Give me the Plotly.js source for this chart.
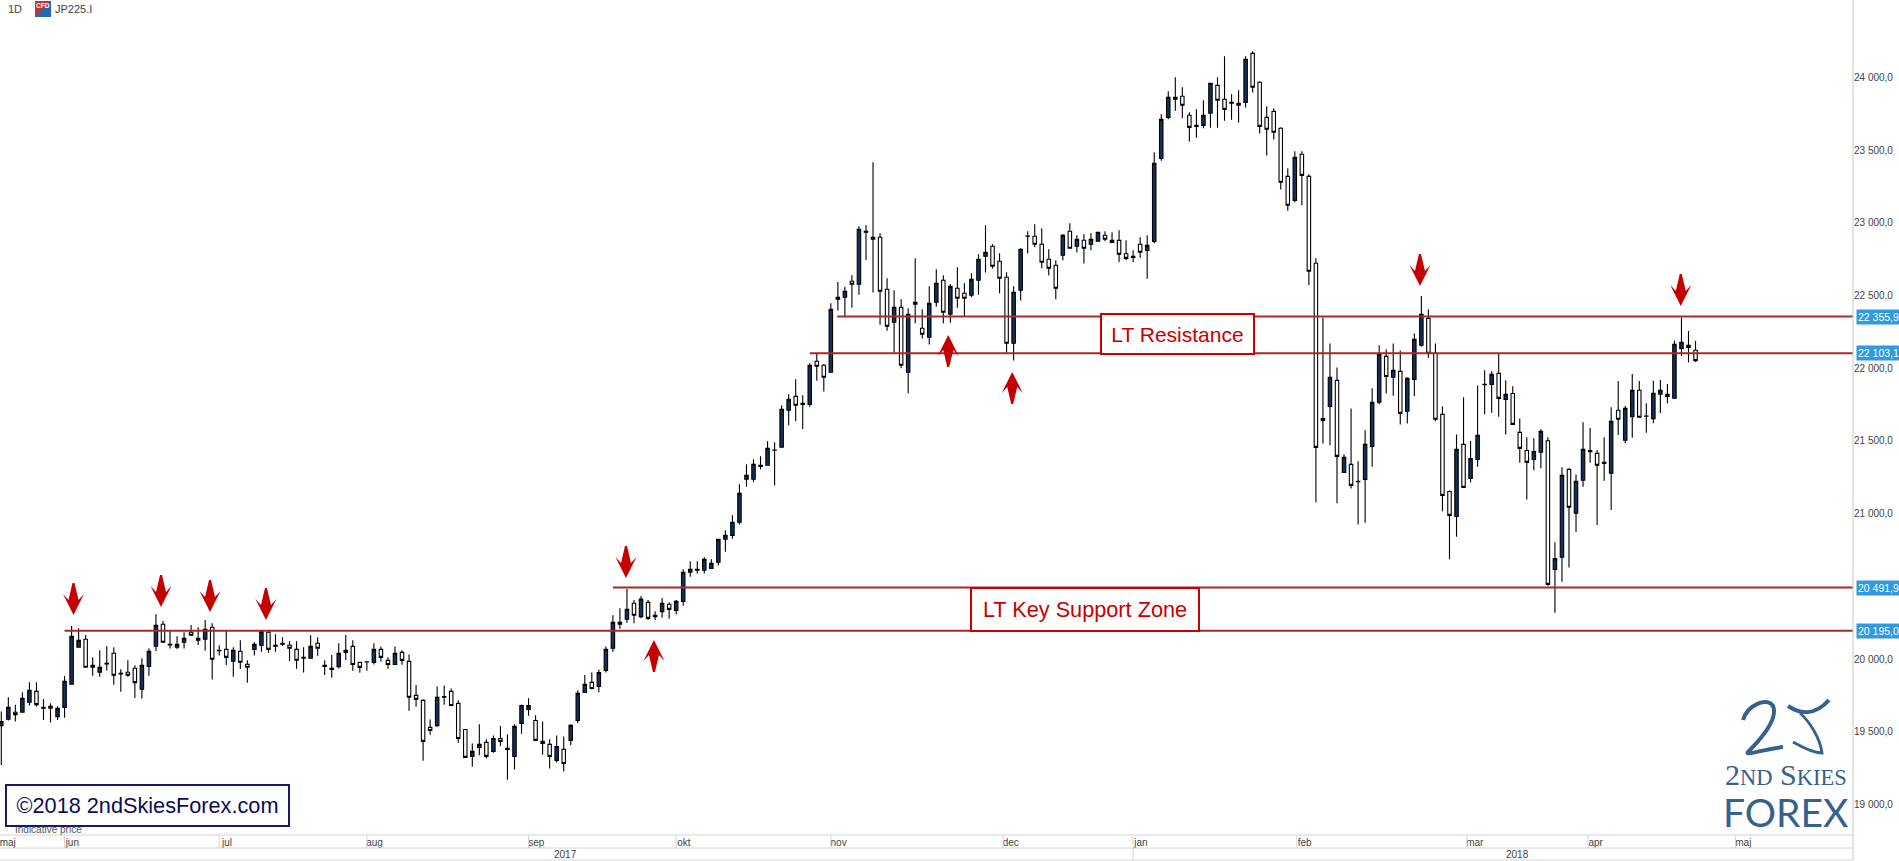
<!DOCTYPE html>
<html>
<head>
<meta charset="utf-8">
<script src="https://cdn.plot.ly/plotly-3.0.1.min.js"></script>
<style>html,body{margin:0;padding:0;background:#fff}#chart{width:1899px;height:861px}</style>
</head>
<body>
<div id="chart"></div>
<script>
const openPrices = [
19542,19586,19634,19634,19703,19778,19662,19675,19604,19668,19827,20081,20136,19957,19909,19967,20040,19898,19909,19937,
19792,19950,20088,20239,20097,20081,20116,20184,20129,20136,20219,20061,20067,19985,20054,19964,20067,20095,20184,20088,
20102,20095,20067,20006,20006,20109,19950,19929,19947,20046,20087,19977,19982,19977,20067,19991,19963,20046,19984,19750,
19716,19530,19542,19737,19778,19695,19516,19331,19393,19427,19365,19454,19379,19331,19558,19654,19578,19434,19413,19303,
19379,19441,19578,19771,19840,19812,19922,20074,20239,20274,20384,20292,20390,20292,20326,20377,20335,20397,20597,20611,
20611,20624,20666,20824,20851,20941,21237,21237,21324,21333,21438,21457,21711,21807,21752,21752,22048,22021,21973,22475,
22489,22599,22578,22936,22901,22901,22544,22317,22420,21973,22454,22275,22213,22454,22605,22372,22550,22516,22502,22605,
22771,22839,22736,22626,22172,22537,22908,22908,22853,22750,22709,22777,22943,22839,22881,22853,22874,22915,22866,22880,
22788,22763,22853,22811,22873,23444,23726,23864,23871,23740,23664,23671,23754,23946,23850,23823,23823,23829,24166,23967,
23726,23767,23651,23320,23155,23472,23320,22722,21642,21738,21917,21284,21339,21222,21236,21463,21766,22082,21938,21979,
21704,21924,22158,22343,22103,21683,21153,20981,21477,21243,21373,21889,21889,21965,21786,21827,21559,21435,21373,21422,
21502,20617,20700,21305,21003,21230,21427,21415,21346,21278,21711,21505,21667,21849,21672,21654,21821,21807,21794,22135,
22158,22124];
const highPrices = [
19639,19737,19685,19772,19840,19840,19726,19696,19675,19884,20228,20212,20166,20012,20061,20088,20081,19930,19992,19957,
20006,20074,20308,20262,20191,20157,20184,20235,20219,20269,20246,20095,20198,20081,20129,19992,20116,20189,20200,20171,
20150,20122,20122,20081,20164,20150,19992,20028,20108,20165,20129,19977,19984,20108,20087,20012,20087,20060,20032,19821,
19723,19585,19812,19819,19798,19716,19516,19420,19551,19448,19475,19539,19482,19551,19688,19730,19613,19571,19448,19475,
19468,19551,19785,19890,19908,19929,20087,20301,20349,20482,20406,20434,20406,20329,20420,20390,20406,20617,20672,20672,
20700,20686,20824,20886,20989,21202,21340,21374,21395,21498,21491,21746,21821,21924,21814,22034,22099,22030,22447,22594,
22560,22640,22977,22984,23417,22929,22619,22537,22475,22413,22757,22406,22564,22681,22640,22578,22695,22585,22654,22784,
22984,22853,22791,22660,22564,22826,22943,22991,22963,22819,22743,22924,22998,22915,22922,22929,22936,22943,22935,22949,
22880,22811,22901,22915,23485,23747,23905,24001,23933,23761,23781,23843,23960,24001,24146,23884,23912,24146,24180,23974,
23802,23788,23657,23375,23492,23492,23334,22756,22350,22171,22006,21408,21724,21360,21573,21862,22158,22130,22171,22123,
21938,22240,22497,22405,22171,21738,21160,21545,21800,21500,21882,21986,21979,22103,21917,21876,21655,21525,21518,21580,
21525,20803,21319,21312,21269,21629,21590,21438,21525,21732,21913,21741,21961,21913,21759,21915,21920,21892,22190,22349,
22257,22188];
const lowPrices = [
19272,19577,19570,19634,19680,19673,19581,19563,19581,19597,19827,20081,19944,19886,19879,19921,19824,19776,19879,19733,
19728,19886,20056,20116,20072,20070,20072,20164,20097,20058,19859,20024,19960,19879,19932,19838,20024,20051,20044,20051,
20090,19987,19934,19907,20006,20022,19891,19872,19936,19993,19920,19906,19920,19963,19984,19934,19963,19961,19645,19672,
19301,19480,19535,19686,19675,19425,19324,19260,19338,19317,19356,19402,19170,19241,19487,19611,19441,19342,19248,19289,
19227,19408,19558,19771,19791,19771,19908,20051,20209,20250,20246,20280,20269,20269,20285,20278,20306,20367,20567,20588,
20588,20624,20643,20739,20828,20925,21186,21218,21303,21333,21193,21457,21608,21636,21580,21736,21915,21840,21973,22397,
22351,22417,22505,22745,22521,22300,22259,22108,22000,21828,22310,22204,22163,22424,22310,22314,22417,22355,22489,22505,
22658,22686,22516,22108,22053,22466,22789,22832,22688,22638,22475,22741,22826,22796,22720,22812,22874,22874,22860,22729,
22743,22729,22761,22616,22860,23428,23712,23772,23719,23559,23586,23651,23655,23655,23703,23710,23690,23793,23896,23614,
23463,23573,23229,23084,23142,23121,22573,21078,21483,21470,21071,21284,21174,20926,20938,21323,21752,21827,21811,21614,
21621,21807,22148,22073,21635,21016,20687,20842,21181,21215,21323,21683,21695,21667,21545,21614,21350,21098,21298,21312,
20505,20319,20532,20629,20874,21186,21351,20922,21227,21026,21541,21484,21523,21663,21557,21622,21693,21759,21794,22085,
22039,22044];
const closePrices = [
19570,19668,19618,19730,19785,19687,19668,19662,19662,19847,20157,20129,19944,19944,19944,19971,19889,19902,19889,19838,
19957,20054,20233,20116,20102,20102,20143,20164,20143,20205,19999,20058,20012,20061,19978,19944,20102,20189,20067,20095,
20109,20074,19992,20012,20088,20074,19957,19936,20039,20060,19963,19943,19980,20067,20012,19963,20039,19991,19737,19723,
19434,19509,19737,19743,19681,19454,19324,19365,19413,19331,19454,19434,19386,19537,19681,19681,19441,19420,19331,19399,
19282,19544,19764,19826,19798,19908,20067,20253,20253,20343,20301,20413,20280,20301,20384,20342,20397,20597,20617,20617,
20686,20659,20824,20851,20941,21140,21264,21340,21333,21450,21436,21718,21787,21746,21759,22021,22014,21938,22406,22489,
22530,22578,22956,22943,22887,22530,22289,22420,22021,22372,22440,22234,22447,22585,22385,22564,22482,22482,22612,22750,
22798,22702,22619,22172,22523,22819,22910,22853,22729,22688,22550,22915,22826,22887,22826,22887,22936,22887,22880,22784,
22756,22770,22798,22846,23410,23712,23864,23850,23809,23657,23671,23740,23960,23843,23781,23829,23809,24125,23933,23664,
23644,23623,23279,23121,23451,23327,22667,21456,21655,21938,21394,21387,21195,21220,21477,21766,22096,21944,21986,21690,
21931,22199,22371,22103,21649,21126,20988,21442,21181,21380,21539,21887,21958,21793,21821,21614,21449,21353,21428,21566,
20514,20691,21264,21044,21223,21443,21434,21333,21353,21635,21649,21725,21849,21663,21670,21828,21849,21821,22165,22179,
22144,22053];
const sessions = openPrices.map((_, i) => i);

const priceTicks = [19000,19500,20000,21000,21500,22000,22500,23000,23500,24000];
const priceTickLabels = ['19 000,0','19 500,0','20 000,0','21 000,0','21 500,0','22 000,0','22 500,0','23 000,0','23 500,0','24 000,0'];
const monthStarts = [-0.18,9,31,52,75,96,118,142.5,161,184.3,208.5,225.7,246.7];
const monthLabels = ['maj','jun','jul','aug','sep','okt','nov','dec','jan','feb','mar','apr','maj'];
const levelPrices = [22355.9,22103.1,20491.9,20195.0];
const levelStarts = [118.9,115,87,9];
const levelLabels = ['22 355,9','22 103,1','20 491,9','20 195,0'];
const downArrowX = [10.27,22.72,29.69,37.65,88.86,201.8,238.9];
const downArrowY = [20303,20358,20324,20269,20558,22566,22429];
const upArrowX = [92.84,134.7,143.8];
const upArrowY = [20131,22229,21975];

const NAVY = '#12305a', RED = '#c40000', LINE = '#a92a2a', AXIS = '#d4d4d4', TXT = '#444', LOGO = '#35608f';
const stripH = 26, plotH = 835;

const pxShape = (path, extra) => Object.assign({type:'path', xref:'paper', yref:'paper', xsizemode:'pixel', ysizemode:'pixel', xanchor:0, yanchor:1, path, layer:'above'}, extra);

const shapes = [];
levelPrices.forEach((p,i) => shapes.push({type:'line', xref:'x', yref:'y', x0:levelStarts[i], x1:263.4, y0:p, y1:p, layer:'above', line:{color:LINE,width:2}}));
downArrowX.forEach((x,i) => shapes.push({type:'path', xref:'x', yref:'y', xsizemode:'pixel', ysizemode:'pixel', xanchor:x, yanchor:downArrowY[i], layer:'above',
  path:'M0,0 L-10.5,21 L-5,15 L-1,32 L1,32 L5,15 L10.5,21 Z', fillcolor:RED, line:{width:0}}));
upArrowX.forEach((x,i) => shapes.push({type:'path', xref:'x', yref:'y', xsizemode:'pixel', ysizemode:'pixel', xanchor:x, yanchor:upArrowY[i], layer:'above',
  path:'M0,0 L-10.5,-21 L-5,-15 L-1,-32 L1,-32 L5,-15 L10.5,-21 Z', fillcolor:RED, line:{width:0}}));
monthStarts.slice(1).forEach(m => shapes.push({type:'line', xref:'x', yref:'paper', x0:m, x1:m, y0:0, y1:-13/plotH, line:{color:AXIS,width:1}}));
shapes.push({type:'line', xref:'x', yref:'paper', x0:161, x1:161, y0:-13/plotH, y1:-25/plotH, line:{color:AXIS,width:1}});
shapes.push({type:'line', xref:'paper', yref:'paper', x0:0, x1:1, y0:0, y1:0, line:{color:AXIS,width:1}});
shapes.push({type:'line', xref:'paper', yref:'paper', x0:0, x1:1, y0:-13/plotH, y1:-13/plotH, line:{color:AXIS,width:1}});
shapes.push({type:'line', xref:'paper', yref:'paper', x0:0, x1:1, y0:-25/plotH, y1:-25/plotH, line:{color:AXIS,width:1}});
shapes.push({type:'line', xref:'paper', yref:'paper', x0:1, x1:1, y0:1, y1:-25/plotH, line:{color:'#c8c8c8',width:1}});
// CFD badge
shapes.push(pxShape('M35,-1 L51,-1 L51,-17 L35,-17 Z', {fillcolor:'#2468ae', line:{width:0}}));
shapes.push(pxShape('M35,-1 L51,-1 L35,-17 Z', {fillcolor:'#b23a3a', line:{width:0}}));
// logo strokes
shapes.push(pxShape('M1743,-720 C1748,-704 1768,-697 1773,-706 C1779,-720 1758,-742 1748,-752 C1745,-756 1760,-750 1783,-747', {line:{color:LOGO,width:4}}));
shapes.push(pxShape('M1788,-706 C1800,-714 1815,-716 1829,-700', {line:{color:LOGO,width:4}}));
shapes.push(pxShape('M1800,-713 C1810,-722 1820,-738 1822,-753 C1812,-753 1800,-746 1793,-742', {line:{color:LOGO,width:2.8}}));

const annotations = [];
levelPrices.forEach((p,i) => annotations.push({xref:'paper', yref:'y', x:1, y:p, xshift:3, xanchor:'left', yanchor:'middle', showarrow:false,
  text:levelLabels[i], font:{family:'Liberation Sans',size:10.5,color:'#fff'}, bgcolor:'#2f9ae0', borderpad:1, width:41, align:'center'}));
annotations.push({xref:'x', yref:'y', x:167.3, y:22236, xanchor:'center', yanchor:'middle', showarrow:false, text:'LT Resistance', font:{family:'Liberation Sans',size:21,color:'#c80000'},
  bgcolor:'#fff', bordercolor:'#c80000', borderwidth:2, borderpad:0, width:151, height:38, align:'center', valign:'middle'});
annotations.push({xref:'x', yref:'y', x:154.2, y:20341, xanchor:'center', yanchor:'middle', showarrow:false, text:'LT Key Support Zone', font:{family:'Liberation Sans',size:21.7,color:'#c80000'},
  bgcolor:'#fff', bordercolor:'#c80000', borderwidth:2, borderpad:0, width:226, height:41, align:'center', valign:'middle'});
annotations.push({xref:'paper', yref:'paper', x:13/1853, y:1-829/835, xanchor:'left', yanchor:'middle', showarrow:false, text:'Indicative price', font:{family:'Liberation Sans',size:10,color:'#555'}});
annotations.push({xref:'paper', yref:'paper', x:147.5/1853, y:1-805.5/835, xanchor:'center', yanchor:'middle', showarrow:false, text:'©2018 2ndSkiesForex.com', font:{family:'Liberation Sans',size:21.7,color:'#0b0b55'},
  bgcolor:'#fff', bordercolor:'#1a1a66', borderwidth:2, borderpad:0, width:281, height:39, align:'center', valign:'middle'});
annotations.push({xref:'paper', yref:'paper', x:6/1853, y:1-9/835, xanchor:'left', yanchor:'middle', showarrow:false, text:'1D', font:{family:'Liberation Sans',size:11,color:TXT}});
annotations.push({xref:'paper', yref:'paper', x:53/1853, y:1-9/835, xanchor:'left', yanchor:'middle', showarrow:false, text:'JP225.I', font:{family:'Liberation Sans',size:11,color:TXT}});
annotations.push({xref:'paper', yref:'paper', x:43/1853, y:1-5.5/835, xanchor:'center', yanchor:'middle', showarrow:false, text:'<b>CFD</b>', font:{family:'Liberation Sans',size:6.5,color:'#fff'}});
annotations.push({xref:'paper', yref:'paper', x:1786/1853, y:1-774/835, xanchor:'center', yanchor:'middle', showarrow:false,
  text:'2<span style="font-size:22.5px">ND</span> S<span style="font-size:22.5px">KIES</span>', font:{family:'Liberation Serif',size:30,color:LOGO}});
annotations.push({xref:'paper', yref:'paper', x:1785.5/1853, y:1-812/835, xanchor:'center', yanchor:'middle', showarrow:false, text:'FOREX', font:{family:'Lato',size:39,color:LOGO}});
annotations.push({xref:'paper', yref:'paper', x:565/1853, y:-19/plotH, xanchor:'center', yanchor:'middle', showarrow:false, text:'2017', font:{family:'Liberation Sans',size:10,color:TXT}});
annotations.push({xref:'paper', yref:'paper', x:1517/1853, y:-19/plotH, xanchor:'center', yanchor:'middle', showarrow:false, text:'2018', font:{family:'Liberation Sans',size:10,color:TXT}});

const trace = {type:'candlestick', x:sessions, open:openPrices, high:highPrices, low:lowPrices, close:closePrices,
  increasing:{line:{color:'#000',width:1.1}, fillcolor:NAVY},
  decreasing:{line:{color:'#000',width:1.1}, fillcolor:'#fff'},
  whiskerwidth:0, hoverinfo:'skip', showlegend:false};

const layout = {
  width:1899, height:861, autosize:false, showlegend:false,
  paper_bgcolor:'#fff', plot_bgcolor:'#fff', boxgap:0.3,
  margin:{l:0, r:46, t:0, b:stripH, pad:0},
  xaxis:{type:'linear', range:[-0.185,263.4], rangeslider:{visible:false}, showgrid:false, zeroline:false, showline:false, ticks:'', ticklabeloverflow:'allow',
    tickmode:'array', tickvals:monthStarts.map(m => m+1.1), ticktext:monthLabels, tickfont:{family:'Liberation Sans',size:10,color:TXT}, automargin:false},
  yaxis:{type:'linear', side:'right', range:[18790,24533], showgrid:false, zeroline:false, showline:false, ticks:'',
    tickmode:'array', tickvals:priceTicks, ticktext:priceTickLabels, tickfont:{family:'Liberation Sans',size:10,color:TXT}, automargin:false},
  shapes, annotations
};
Plotly.newPlot('chart',[trace],layout,{displayModeBar:false,staticPlot:true});
</script>
</body>
</html>
